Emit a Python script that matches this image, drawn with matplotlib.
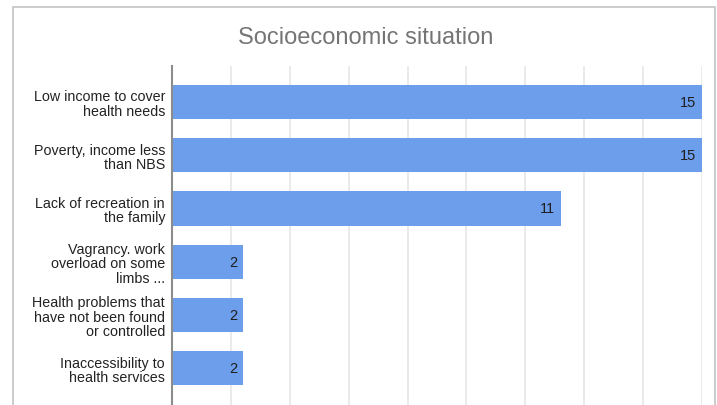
import numpy as np
import matplotlib
matplotlib.use("Agg")
import matplotlib.pyplot as plt
from matplotlib.patches import Rectangle

plt.rcParams['font.family'] = ['Liberation Sans', 'DejaVu Sans']

categorias = [
    "Low income to cover\nhealth needs",
    "Poverty, income less\nthan NBS",
    "Lack of recreation in\nthe family",
    "Vagrancy. work\noverload on some\nlimbs ...",
    "Health problems that\nhave not been found\nor controlled",
    "Inaccessibility to\nhealth services",
]
valores = [15, 15, 11, 2, 2, 2]
titulo = "Socioeconomic situation"

cor_barra = '#6d9eeb'

fig = plt.figure(figsize=(7.17, 4.06), dpi=100)
ax = fig.add_axes([172 / 717, 0, 530 / 717, 339 / 406])

y = np.arange(len(categorias))
ax.barh(y, valores, height=0.64, color=cor_barra, zorder=3)

# rótulos de valor dentro da barra
for yi, v in zip(y, valores):
    ax.annotate(str(v), (v, yi), xytext=(-4, 0), textcoords='offset points',
                ha='right', va='center', fontsize=10.5, color='#1f1f1f', zorder=4)

ax.set_xlim(0, 15)
ax.set_ylim(5.69, -0.675)
ax.set_xticks(np.linspace(0, 15, 10))
ax.set_xticklabels([])
ax.set_yticks(y)
ax.set_yticklabels(categorias, fontsize=10.3, linespacing=1.02, color='#222222')
ax.tick_params(axis='both', length=0)
ax.tick_params(axis='y', pad=5)
ax.grid(axis='x', color='#e6e6e6', linewidth=1.2, zorder=1)

for s in ['top', 'right', 'bottom']:
    ax.spines[s].set_visible(False)
ax.spines['left'].set_color('#8c8c8c')
ax.spines['left'].set_linewidth(1.5)
ax.spines['left'].set_zorder(5)

fig.text(366 / 717, (406 - 38) / 406, titulo, ha='center', va='center',
         fontsize=17, color='#757575')

# moldura cinza em volta do gráfico
fig.patches.append(Rectangle((13 / 717, -0.02), 702 / 717, (406 - 8) / 406 + 0.02,
                             transform=fig.transFigure, fill=False,
                             edgecolor='#c4c4c4', linewidth=1.2))

fig.savefig('out.png', dpi=100)
